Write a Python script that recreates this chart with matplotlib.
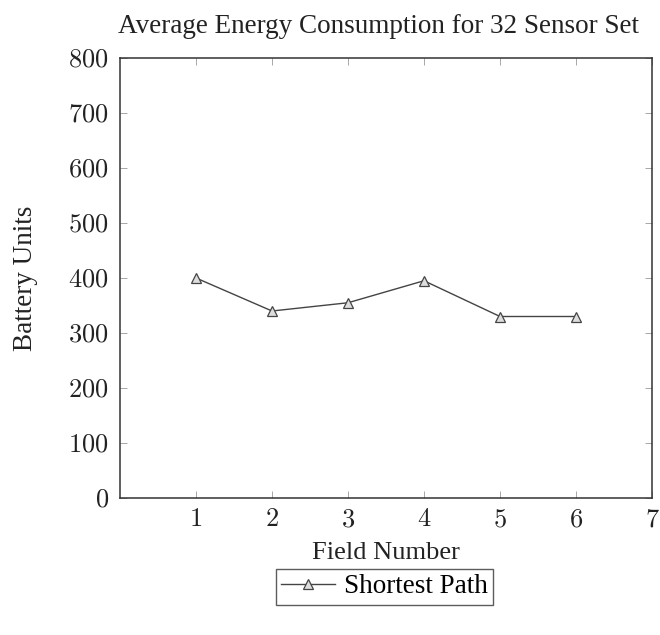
import matplotlib
matplotlib.use("Agg")
import matplotlib.pyplot as plt
from matplotlib.ticker import FuncFormatter

# data
fields = [1, 2, 3, 4, 5, 6]
battery_units = [400, 340, 355, 395, 330, 330]
x_ticks = [1, 2, 3, 4, 5, 6, 7]
y_ticks = [0, 100, 200, 300, 400, 500, 600, 700, 800]

plt.rcParams["font.family"] = ["Liberation Serif", "DejaVu Serif"]
plt.rcParams["mathtext.fontset"] = "cm"

fig = plt.figure(figsize=(6.6, 6.35), dpi=100)
ax = fig.add_axes([120 / 660, 137 / 635, 532 / 660, 440 / 635])

ax.plot(fields, battery_units, color="#444444", lw=1.0, marker="^",
        markersize=7, markerfacecolor="#dddddd", markeredgecolor="#444444",
        markeredgewidth=0.9, label="Shortest Path")

ax.set_xlim(0, 7)
ax.set_ylim(0, 800)
ax.set_xticks(x_ticks)
ax.set_yticks(y_ticks)
math_fmt = FuncFormatter(lambda v, _: f"${int(v)}$")
ax.xaxis.set_major_formatter(math_fmt)
ax.yaxis.set_major_formatter(math_fmt)
ax.tick_params(direction="in", length=5, width=0.6, color="#999999",
               top=True, right=True, labelsize=19, labelcolor="#222222", pad=8)
for sp in ax.spines.values():
    sp.set_linewidth(1.1)
    sp.set_color("#333333")

ax.set_title("Average Energy Consumption for 32 Sensor Set", fontsize=19.5,
             pad=18, x=0.485, color="#222222")
ax.set_xlabel("Field Number", fontsize=19, labelpad=8, color="#222222")
ax.set_ylabel("Battery Units", fontsize=19.5, labelpad=22, color="#222222")

leg = ax.legend(loc="upper center", bbox_to_anchor=(0.497, -0.13), fontsize=19.5,
                frameon=True, fancybox=False, handlelength=2.0,
                borderpad=0.2, handletextpad=0.3)
leg.get_frame().set_edgecolor("#333333")
leg.get_frame().set_linewidth(1.0)

fig.savefig("out.png", dpi=100)
